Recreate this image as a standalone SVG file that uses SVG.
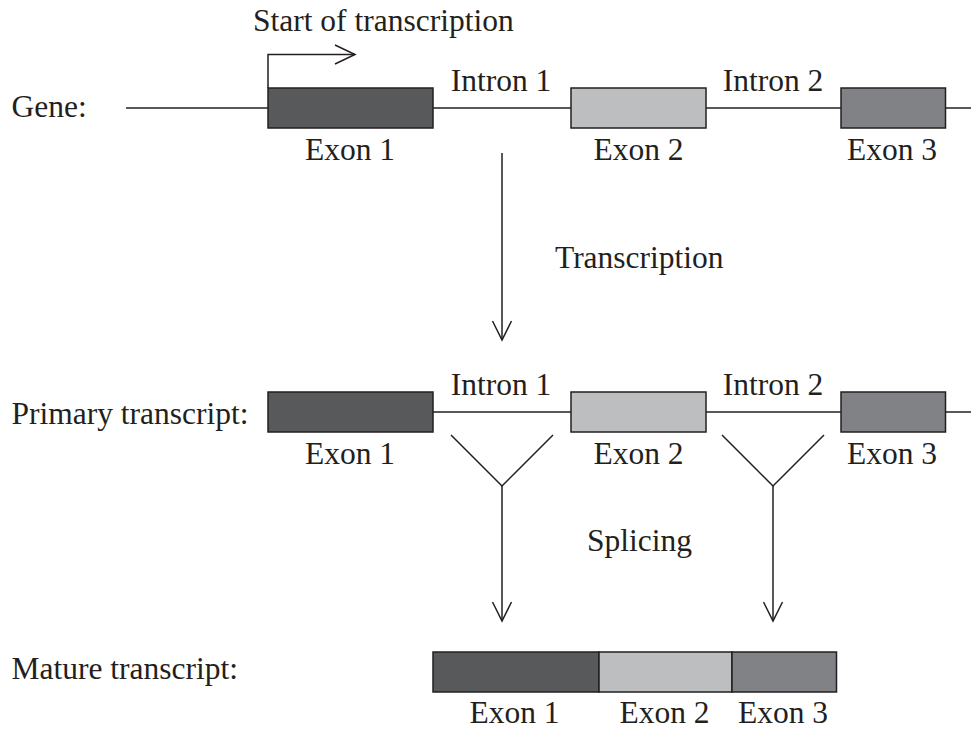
<svg xmlns="http://www.w3.org/2000/svg" width="971" height="731" viewBox="0 0 971 731">
<style>
text{font-family:"Liberation Serif","Times New Roman",serif;font-size:31.5px;fill:#231f20}
.m{text-anchor:middle}
.ln{stroke:#231f20;stroke-width:1.5;fill:none}
.bx{stroke:#231f20;stroke-width:1.5}
.e1{fill:#58595b}.e2{fill:#bcbec0}.e3{fill:#808285}
</style>
<rect width="971" height="731" fill="#fff"/>
<g id="labels">
<text x="11.5" y="117">Gene:</text>
<text x="11.5" y="424">Primary transcript:</text>
<text x="11.5" y="679">Mature transcript:</text>
<text x="253" y="31">Start of transcription</text>
<text x="555" y="268">Transcription</text>
<text x="587" y="551">Splicing</text>
</g>
<g id="connectors">
<line class="ln" x1="126" y1="108" x2="971" y2="108"/>
<line class="ln" x1="433" y1="412" x2="971" y2="412"/>
<polyline class="ln" points="268,88 268,54.5 355,54.5"/>
<polyline class="ln" points="335,45 355,54.5 335,64"/>
<line class="ln" x1="502" y1="153" x2="502" y2="340"/>
<polyline class="ln" points="492.5,321 502,340 511.5,321"/>
<polyline class="ln" points="451,435 502,486 553,435"/>
<line class="ln" x1="502" y1="486" x2="502" y2="621"/>
<polyline class="ln" points="492.5,602 502,621 511.5,602"/>
<polyline class="ln" points="722,435 773,486 824,435"/>
<line class="ln" x1="773" y1="486" x2="773" y2="621"/>
<polyline class="ln" points="763.5,602 773,621 782.5,602"/>
</g>
<g id="gene">
<rect class="bx e1" x="268" y="88" width="165" height="40"/>
<rect class="bx e2" x="571" y="88" width="135" height="40"/>
<rect class="bx e3" x="841" y="88" width="104.5" height="40"/>
<text class="m" x="501" y="91">Intron 1</text>
<text class="m" x="773" y="91">Intron 2</text>
<text class="m" x="350" y="159.5">Exon 1</text>
<text class="m" x="638.5" y="159.5">Exon 2</text>
<text class="m" x="892" y="159.5">Exon 3</text>
</g>
<g id="primary">
<rect class="bx e1" x="268" y="392" width="165" height="40"/>
<rect class="bx e2" x="571" y="392" width="135" height="40"/>
<rect class="bx e3" x="841" y="392" width="104.5" height="40"/>
<text class="m" x="501" y="395">Intron 1</text>
<text class="m" x="773" y="395">Intron 2</text>
<text class="m" x="350" y="464">Exon 1</text>
<text class="m" x="638.5" y="464">Exon 2</text>
<text class="m" x="892" y="464">Exon 3</text>
</g>
<g id="mature">
<rect class="bx e1" x="433" y="652" width="166" height="40"/>
<rect class="bx e2" x="599" y="652" width="133" height="40"/>
<rect class="bx e3" x="732" y="652" width="104.5" height="40"/>
<text class="m" x="514.5" y="723">Exon 1</text>
<text class="m" x="664.5" y="723">Exon 2</text>
<text class="m" x="783" y="723">Exon 3</text>
</g>
</svg>
